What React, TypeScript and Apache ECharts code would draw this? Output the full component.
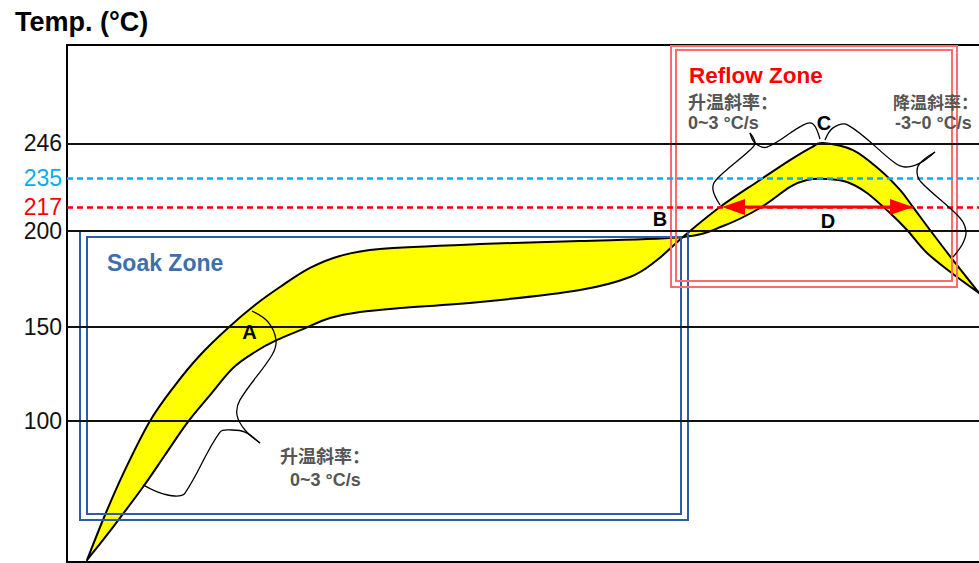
import React, { useEffect, useRef } from "react";
import * as echarts from "echarts";

const FONT = 'Arial, "Liberation Sans", "Noto Sans CJK SC", sans-serif';

// axis extents (schematic units)
const X_MIN = 0;
const X_MAX = 912;
const Y_MIN = 25;
const Y_MAX = 300;

// reference levels
const levelLabels = ["246", "235", "217", "200", "150", "100"];
const levelValues = [247.7, 229.3, 213.8, 201.2, 150, 100];
const levelColors = ["#111111", "#00b0f0", "#ff0000", "#111111", "#111111", "#111111"];
const levelDashed = [false, true, true, false, false, false];

// profile ribbon, edge 1: flat soak edge, crossing at B, then the lower reflow edge
const flatX = [20, 38, 58, 83, 108, 133, 161, 188, 213, 243, 273, 313, 413, 513, 616, 656, 693, 723, 740, 760, 780, 800, 823, 840, 860, 886, 912];
const flatY = [26, 50, 74, 100, 119, 135, 149.5, 161.7, 171.3, 181.4, 187.8, 191.5, 194.1, 195.7, 197.9, 203.7, 213.3, 224.5, 228.2, 228.7, 227.1, 221.3, 210.6, 201.6, 189.4, 178.2, 168.1];
// profile ribbon, edge 2: lower soak edge, crossing at B, then the upper reflow edge
const steepX = [20, 46, 76, 98, 120, 143, 166, 188, 210, 236, 263, 293, 333, 413, 513, 563, 590, 616, 653, 693, 723, 745, 756, 786, 813, 833, 846, 863, 886, 912];
const steepY = [26, 43.6, 64.9, 81.9, 98.9, 113.8, 128.2, 136.7, 143.1, 148.9, 154.8, 158, 160.1, 163.3, 169.7, 176.6, 185.6, 197.9, 213.8, 228.2, 238.8, 245.7, 247.9, 244.1, 233.5, 222.9, 213.8, 201.6, 185.6, 168.1];

// zone boxes (x1, y1, x2, y2)
const boxX1 = [13, 20, 604, 609];
const boxY1 = [47.3, 50.5, 171.3, 174.5];
const boxX2 = [621, 614, 890, 885];
const boxY2 = [201.1, 197.9, 299.5, 297.3];
const boxZone = ["soak", "soak", "reflow", "reflow"];

// curly braces (polylines)
const braces: number[][][] = [
  [[185, 158.5], [201, 152.7], [209, 143.1], [205, 135.1], [173, 111.2], [170, 103.2], [178, 95.2], [193, 88.3]],
  [[193, 88.3], [178, 94.1], [165, 95.2], [153, 94.1], [118, 61.7], [108, 60.1], [91, 62.2], [76, 66]],
  [[653, 214.9], [646, 222.9], [649, 228.2], [683, 244.1], [688, 247.9], [683, 253.2]],
  [[683, 253.2], [688, 247.9], [700, 245.7], [736, 257.4], [746, 258], [753, 250]],
  [[758, 249.5], [766, 255.9], [781, 257.4], [828, 237.2], [838, 235.1], [853, 237.2], [868, 243.1]],
  [[868, 243.1], [853, 237.2], [850, 232.4], [854, 227.1], [893, 208], [899, 200.5], [895, 193.6], [886, 187.2]],
];

// D arrow (between the two 217 crossings)
const arrowLeft = 655;
const arrowRight = 846;
const arrowLevel = 213.8;
const arrowHead = 23;

// annotations
const annoText = ["Soak Zone", "Reflow Zone", "A", "B", "C", "D", "升温斜率：", "0~3 °C/s", "升温斜率：", "0~3 °C/s", "降温斜率：", "-3~0 °C/s"];
const annoX = [40, 622, 182.5, 593, 757, 761, 213, 223, 621, 621, 911, 828];
const annoY = [183.8, 284, 147.3, 207.2, 258.5, 206.4, 80.9, 68.6, 269.1, 258.4, 269.1, 258.4];
const annoKind = ["soak", "reflow", "letter", "letter", "letter", "letter", "note", "note", "note", "note", "noteRight", "note"];

const textStyles: Record<string, any> = {
  soak: { fill: "#3d6fab", fontSize: 23, fontWeight: "bold", align: "left" },
  reflow: { fill: "#ff0000", fontSize: 22.5, fontWeight: "bold", align: "left" },
  letter: { fill: "#000000", fontSize: 20, fontWeight: "bold", align: "center" },
  note: { fill: "#555555", fontSize: 18, fontWeight: "bold", align: "left" },
  noteRight: { fill: "#555555", fontSize: 17, fontWeight: "bold", align: "right" },
};

// smooth curve through pixel points (cubic Bezier, Catmull-Rom tangents)
function curveThrough(pts: number[][]): string {
  let d = "";
  for (let i = 0; i < pts.length - 1; i++) {
    const p0 = pts[i - 1] || pts[i];
    const p1 = pts[i];
    const p2 = pts[i + 1];
    const p3 = pts[i + 2] || pts[i + 1];
    const c1x = p1[0] + (p2[0] - p0[0]) / 6;
    const c1y = p1[1] + (p2[1] - p0[1]) / 6;
    const c2x = p2[0] - (p3[0] - p1[0]) / 6;
    const c2y = p2[1] - (p3[1] - p1[1]) / 6;
    d += ` C${c1x.toFixed(2)},${c1y.toFixed(2)} ${c2x.toFixed(2)},${c2y.toFixed(2)} ${p2[0].toFixed(2)},${p2[1].toFixed(2)}`;
  }
  return d;
}

export default function App() {
  const ref = useRef<HTMLDivElement>(null);
  useEffect(() => {
    if (!ref.current) return;
    const chart = echarts.init(ref.current, null, { renderer: "svg" });

    const solidLines = levelValues
      .map((v, i) => ({ v, i }))
      .filter((d) => !levelDashed[d.i])
      .map((d) => ({
        yAxis: d.v,
        name: levelLabels[d.i],
        lineStyle: { color: levelColors[d.i], width: 2, type: "solid" },
        label: { color: levelColors[d.i] },
      }));
    const dashedLines = levelValues
      .map((v, i) => ({ v, i }))
      .filter((d) => levelDashed[d.i])
      .map((d) => ({
        yAxis: d.v,
        name: levelLabels[d.i],
        lineStyle: { color: levelColors[d.i], width: 2.5, type: [6, 4] },
        label: { color: levelColors[d.i] },
      }));

    const markLabel = {
      show: true,
      position: "start",
      formatter: "{b}",
      fontSize: 23,
      fontFamily: FONT,
      distance: 5,
    };

    const hiddenAxis = {
      axisTick: { show: false },
      axisLabel: { show: false },
      splitLine: { show: false },
    };

    const option: any = {
      animation: false,
      title: {
        text: "Temp. (°C)",
        left: 10,
        top: 3,
        textStyle: { fontSize: 27, fontWeight: "bold", color: "#000", fontFamily: FONT },
      },
      grid: { left: 67, right: 0, top: 45, bottom: 1 },
      xAxis: [
        {
          type: "value",
          min: X_MIN,
          max: X_MAX,
          position: "bottom",
          axisLine: { show: true, onZero: false, lineStyle: { color: "#000", width: 2 } },
          ...hiddenAxis,
        },
        {
          type: "value",
          min: X_MIN,
          max: X_MAX,
          position: "top",
          axisLine: { show: true, onZero: false, lineStyle: { color: "#000", width: 2 } },
          ...hiddenAxis,
        },
      ],
      yAxis: {
        type: "value",
        min: Y_MIN,
        max: Y_MAX,
        axisLine: { show: true, onZero: false, lineStyle: { color: "#000", width: 2 } },
        ...hiddenAxis,
      },
      series: [
        {
          type: "line",
          data: [],
          z: 1,
          silent: true,
          markLine: { silent: true, symbol: "none", label: markLabel, data: solidLines },
        },
        {
          type: "custom",
          z: 2,
          silent: true,
          data: [[flatX[0], flatY[0]]],
          renderItem: (_p: any, api: any) => {
            const a = flatX.map((x, i) => api.coord([x, flatY[i]]));
            const b = steepX.map((x, i) => api.coord([x, steepY[i]])).reverse();
            const d =
              `M${a[0][0].toFixed(2)},${a[0][1].toFixed(2)}` +
              curveThrough(a) +
              ` L${b[0][0].toFixed(2)},${b[0][1].toFixed(2)}` +
              curveThrough(b) +
              " Z";
            return {
              type: "path",
              shape: { pathData: d },
              style: { fill: "#ffff00", stroke: "#000", lineWidth: 2, lineJoin: "round" },
            };
          },
        },
        {
          type: "line",
          data: [],
          z: 3,
          silent: true,
          markLine: { silent: true, symbol: "none", label: markLabel, data: dashedLines },
        },
        {
          type: "custom",
          z: 4,
          silent: true,
          data: boxX1.map((x, i) => [x, boxY1[i], boxX2[i], boxY2[i]]),
          renderItem: (p: any, api: any) => {
            const i = p.dataIndex;
            const a = api.coord([boxX1[i], boxY2[i]]);
            const b = api.coord([boxX2[i], boxY1[i]]);
            const soak = boxZone[i] === "soak";
            return {
              type: "rect",
              shape: { x: a[0], y: a[1], width: b[0] - a[0], height: b[1] - a[1] },
              style: { fill: "none", stroke: soak ? "#2d5ca6" : "#ff6b6b", lineWidth: 2 },
            };
          },
        },
        {
          type: "custom",
          z: 5,
          silent: true,
          data: braces.map((b) => b[0]),
          renderItem: (p: any, api: any) => {
            const pts = braces[p.dataIndex].map((q) => api.coord(q));
            return {
              type: "polyline",
              shape: { points: pts, smooth: 0.35 },
              style: { fill: "none", stroke: "#000", lineWidth: 1.3 },
            };
          },
        },
        {
          type: "custom",
          z: 6,
          silent: true,
          data: [[arrowLeft, arrowLevel]],
          renderItem: (_p: any, api: any) => {
            const l = api.coord([arrowLeft, arrowLevel]);
            const lb = api.coord([arrowLeft + arrowHead, arrowLevel]);
            const r = api.coord([arrowRight, arrowLevel]);
            const rb = api.coord([arrowRight - arrowHead, arrowLevel]);
            const h = 8;
            return {
              type: "group",
              children: [
                {
                  type: "line",
                  shape: { x1: lb[0], y1: l[1], x2: rb[0], y2: r[1] },
                  style: { stroke: "#ff0000", lineWidth: 3 },
                },
                {
                  type: "polygon",
                  shape: { points: [l, [lb[0], l[1] - h], [lb[0], l[1] + h]] },
                  style: { fill: "#ff0000" },
                },
                {
                  type: "polygon",
                  shape: { points: [r, [rb[0], r[1] - h], [rb[0], r[1] + h]] },
                  style: { fill: "#ff0000" },
                },
              ],
            };
          },
        },
        {
          type: "custom",
          z: 7,
          silent: true,
          data: annoX.map((x, i) => [x, annoY[i]]),
          renderItem: (p: any, api: any) => {
            const i = p.dataIndex;
            const c = api.coord([annoX[i], annoY[i]]);
            const s = textStyles[annoKind[i]];
            return {
              type: "text",
              x: c[0],
              y: c[1],
              style: {
                text: annoText[i],
                fill: s.fill,
                fontSize: s.fontSize,
                fontWeight: s.fontWeight,
                fontFamily: FONT,
                align: s.align,
                verticalAlign: "middle",
              },
            };
          },
        },
      ],
    };
    chart.setOption(option);
    return () => chart.dispose();
  }, []);
  return (
    <div
      ref={ref}
      style={{ position: "absolute", left: 0, top: 0, width: 979, height: 563, background: "#fff" }}
    />
  );
}
